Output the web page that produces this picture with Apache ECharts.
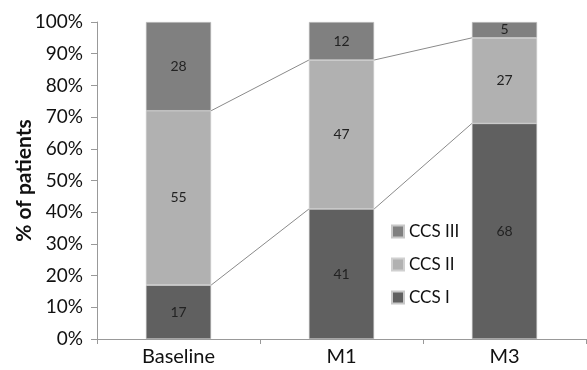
<!DOCTYPE html>
<html><head><meta charset="utf-8">
<script src="https://cdn.jsdelivr.net/npm/echarts@6/dist/echarts.min.js"></script>
<style>html,body{margin:0;padding:0;background:#fff}#c{width:587px;height:370px}</style>
</head><body><div id="c"></div>
<script>
const categories = ['Baseline', 'M1', 'M3'];
const ccs1 = [17, 41, 68];
const ccs2 = [55, 47, 27];
const ccs3 = [28, 12, 5];
const yTicks = [0, 10, 20, 30, 40, 50, 60, 70, 80, 90, 100];

const FONT = 'Lato, "Open Sans", sans-serif';
const BAR_FRAC = 0.4;
const cum1 = ccs1.slice();
const cum2 = ccs1.map((v, i) => v + ccs2[i]);
const connectorData = [];
for (let i = 0; i < categories.length - 1; i++) {
  connectorData.push([i, cum1[i], cum1[i + 1]]);
  connectorData.push([i, cum2[i], cum2[i + 1]]);
}

const chart = echarts.init(document.getElementById('c'), null, {renderer: 'canvas'});
const labelCfg = {show: true, position: 'inside', color: '#222', fontSize: 14, fontFamily: FONT};
chart.setOption({
  animation: false,
  grid: {left: 97, right: 1, top: 22, bottom: 31},
  legend: {
    orient: 'vertical', left: 386, top: 218, itemWidth: 12, itemHeight: 12, itemGap: 16,
    icon: 'rect',
    data: ['CCS III', 'CCS II', 'CCS I'],
    textStyle: {fontSize: 17, color: '#111', fontFamily: FONT, padding: [0, 0, 0, 0]}
  },
  xAxis: {
    type: 'category', data: categories,
    axisLine: {lineStyle: {color: '#999', width: 1}},
    axisTick: {show: true, length: 5, lineStyle: {color: '#999'}},
    axisLabel: {fontSize: 20, color: '#111', fontFamily: FONT, margin: 8}
  },
  yAxis: {
    type: 'value', min: 0, max: 100, interval: 10,
    name: '% of patients', nameLocation: 'middle', nameGap: 62, nameMoveOverlap: false,
    nameTextStyle: {fontSize: 21, fontWeight: 'bold', color: '#111', fontFamily: FONT},
    axisLine: {show: true, lineStyle: {color: '#999'}},
    axisTick: {show: true, length: 6, lineStyle: {color: '#999'}},
    splitLine: {show: false},
    axisLabel: {fontSize: 19, color: '#111', fontFamily: FONT, margin: 14,
      formatter: v => yTicks.indexOf(v) >= 0 ? v + '%' : ''}
  },
  series: [
    {name: 'CCS I', type: 'bar', stack: 's', data: ccs1, barWidth: (BAR_FRAC * 100) + '%',
     itemStyle: {color: '#606060', borderColor: '#c8c8c8', borderWidth: 0.6}, label: labelCfg},
    {name: 'CCS II', type: 'bar', stack: 's', data: ccs2,
     itemStyle: {color: '#b1b1b1', borderColor: '#d0d0d0', borderWidth: 0.6}, label: labelCfg},
    {name: 'CCS III', type: 'bar', stack: 's', data: ccs3,
     itemStyle: {color: '#808080', borderColor: '#c8c8c8', borderWidth: 0.6}, label: labelCfg},
    {type: 'custom', silent: true, data: connectorData, z: 1,
     renderItem: function (params, api) {
       const i = api.value(0);
       const p0 = api.coord([i, api.value(1)]);
       const p1 = api.coord([i + 1, api.value(2)]);
       const bw = api.size([1, 0])[0] * BAR_FRAC;
       return {type: 'line', shape: {x1: p0[0] + bw / 2, y1: p0[1], x2: p1[0] - bw / 2, y2: p1[1]},
               style: {stroke: '#8a8a8a', lineWidth: 1}};
     }}
  ]
});
</script></body></html>
